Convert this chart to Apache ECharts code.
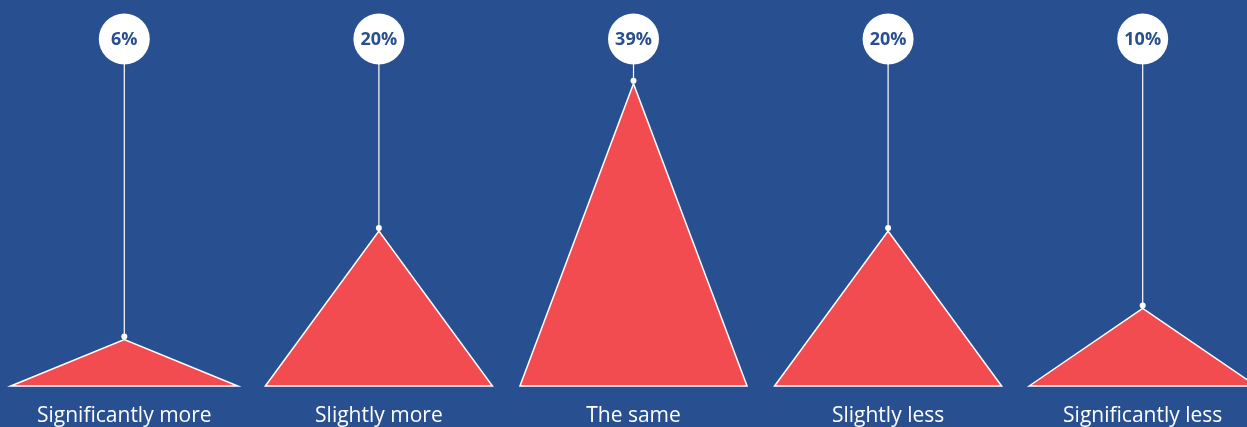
<!DOCTYPE html>
<html>
<head>
<meta charset="utf-8">
<script src="https://cdn.jsdelivr.net/npm/echarts@6/dist/echarts.min.js"></script>
<style>
html,body{margin:0;padding:0;background:#284f8f;}
#c{width:1247px;height:427px;}
</style>
</head>
<body>
<div id="c"></div>
<script>
const categories = ['Significantly more', 'Slightly more', 'The same', 'Slightly less', 'Significantly less'];
const values = [6, 20, 39, 20, 10];

const BG = '#284f8f';
const RED = '#f24c51';
const chart = echarts.init(document.getElementById('c'), null, {renderer: 'canvas'});
chart.setOption({
  backgroundColor: BG,
  animation: false,
  grid: {left: -3, width: 1273, top: 76, bottom: 41, containLabel: false, outerBoundsMode: 'none'},
  xAxis: {
    type: 'category',
    data: categories,
    axisLine: {show: false},
    axisTick: {show: false},
    axisLabel: {color: '#ffffff', fontSize: 21, fontFamily: 'Open Sans', margin: 20, interval: 0}
  },
  yAxis: {type: 'value', min: 0, max: 40, show: false, splitLine: {show: false}},
  series: [{
    type: 'custom',
    data: values.map((v, i) => [i, v]),
    renderItem: function (params, api) {
      const idx = api.value(0), v = api.value(1);
      const apex = api.coord([idx, v]);
      const base = api.coord([idx, 0]);
      const bw = api.size([1, 0])[0];
      const hw = bw * 0.446;
      const cy = 39;
      return {
        type: 'group',
        children: [
          {type: 'polygon', shape: {points: [[base[0] - hw, base[1]], [apex[0], apex[1]], [base[0] + hw, base[1]]]},
           style: {fill: RED, stroke: '#ffffff', lineWidth: 1.5}},
          {type: 'line', shape: {x1: apex[0], y1: apex[1] - 3, x2: apex[0], y2: cy},
           style: {stroke: '#ffffff', lineWidth: 1.2}},
          {type: 'circle', shape: {cx: apex[0], cy: apex[1] - 3, r: 3}, style: {fill: '#ffffff'}},
          {type: 'circle', shape: {cx: apex[0], cy: cy, r: 25.5}, style: {fill: '#ffffff'}},
          {type: 'text', style: {text: v + '%', x: apex[0], y: cy + 1, align: 'center', verticalAlign: 'middle',
            fill: BG, font: 'bold 18px "Open Sans"'}}
        ]
      };
    }
  }]
});
</script>
</body>
</html>
